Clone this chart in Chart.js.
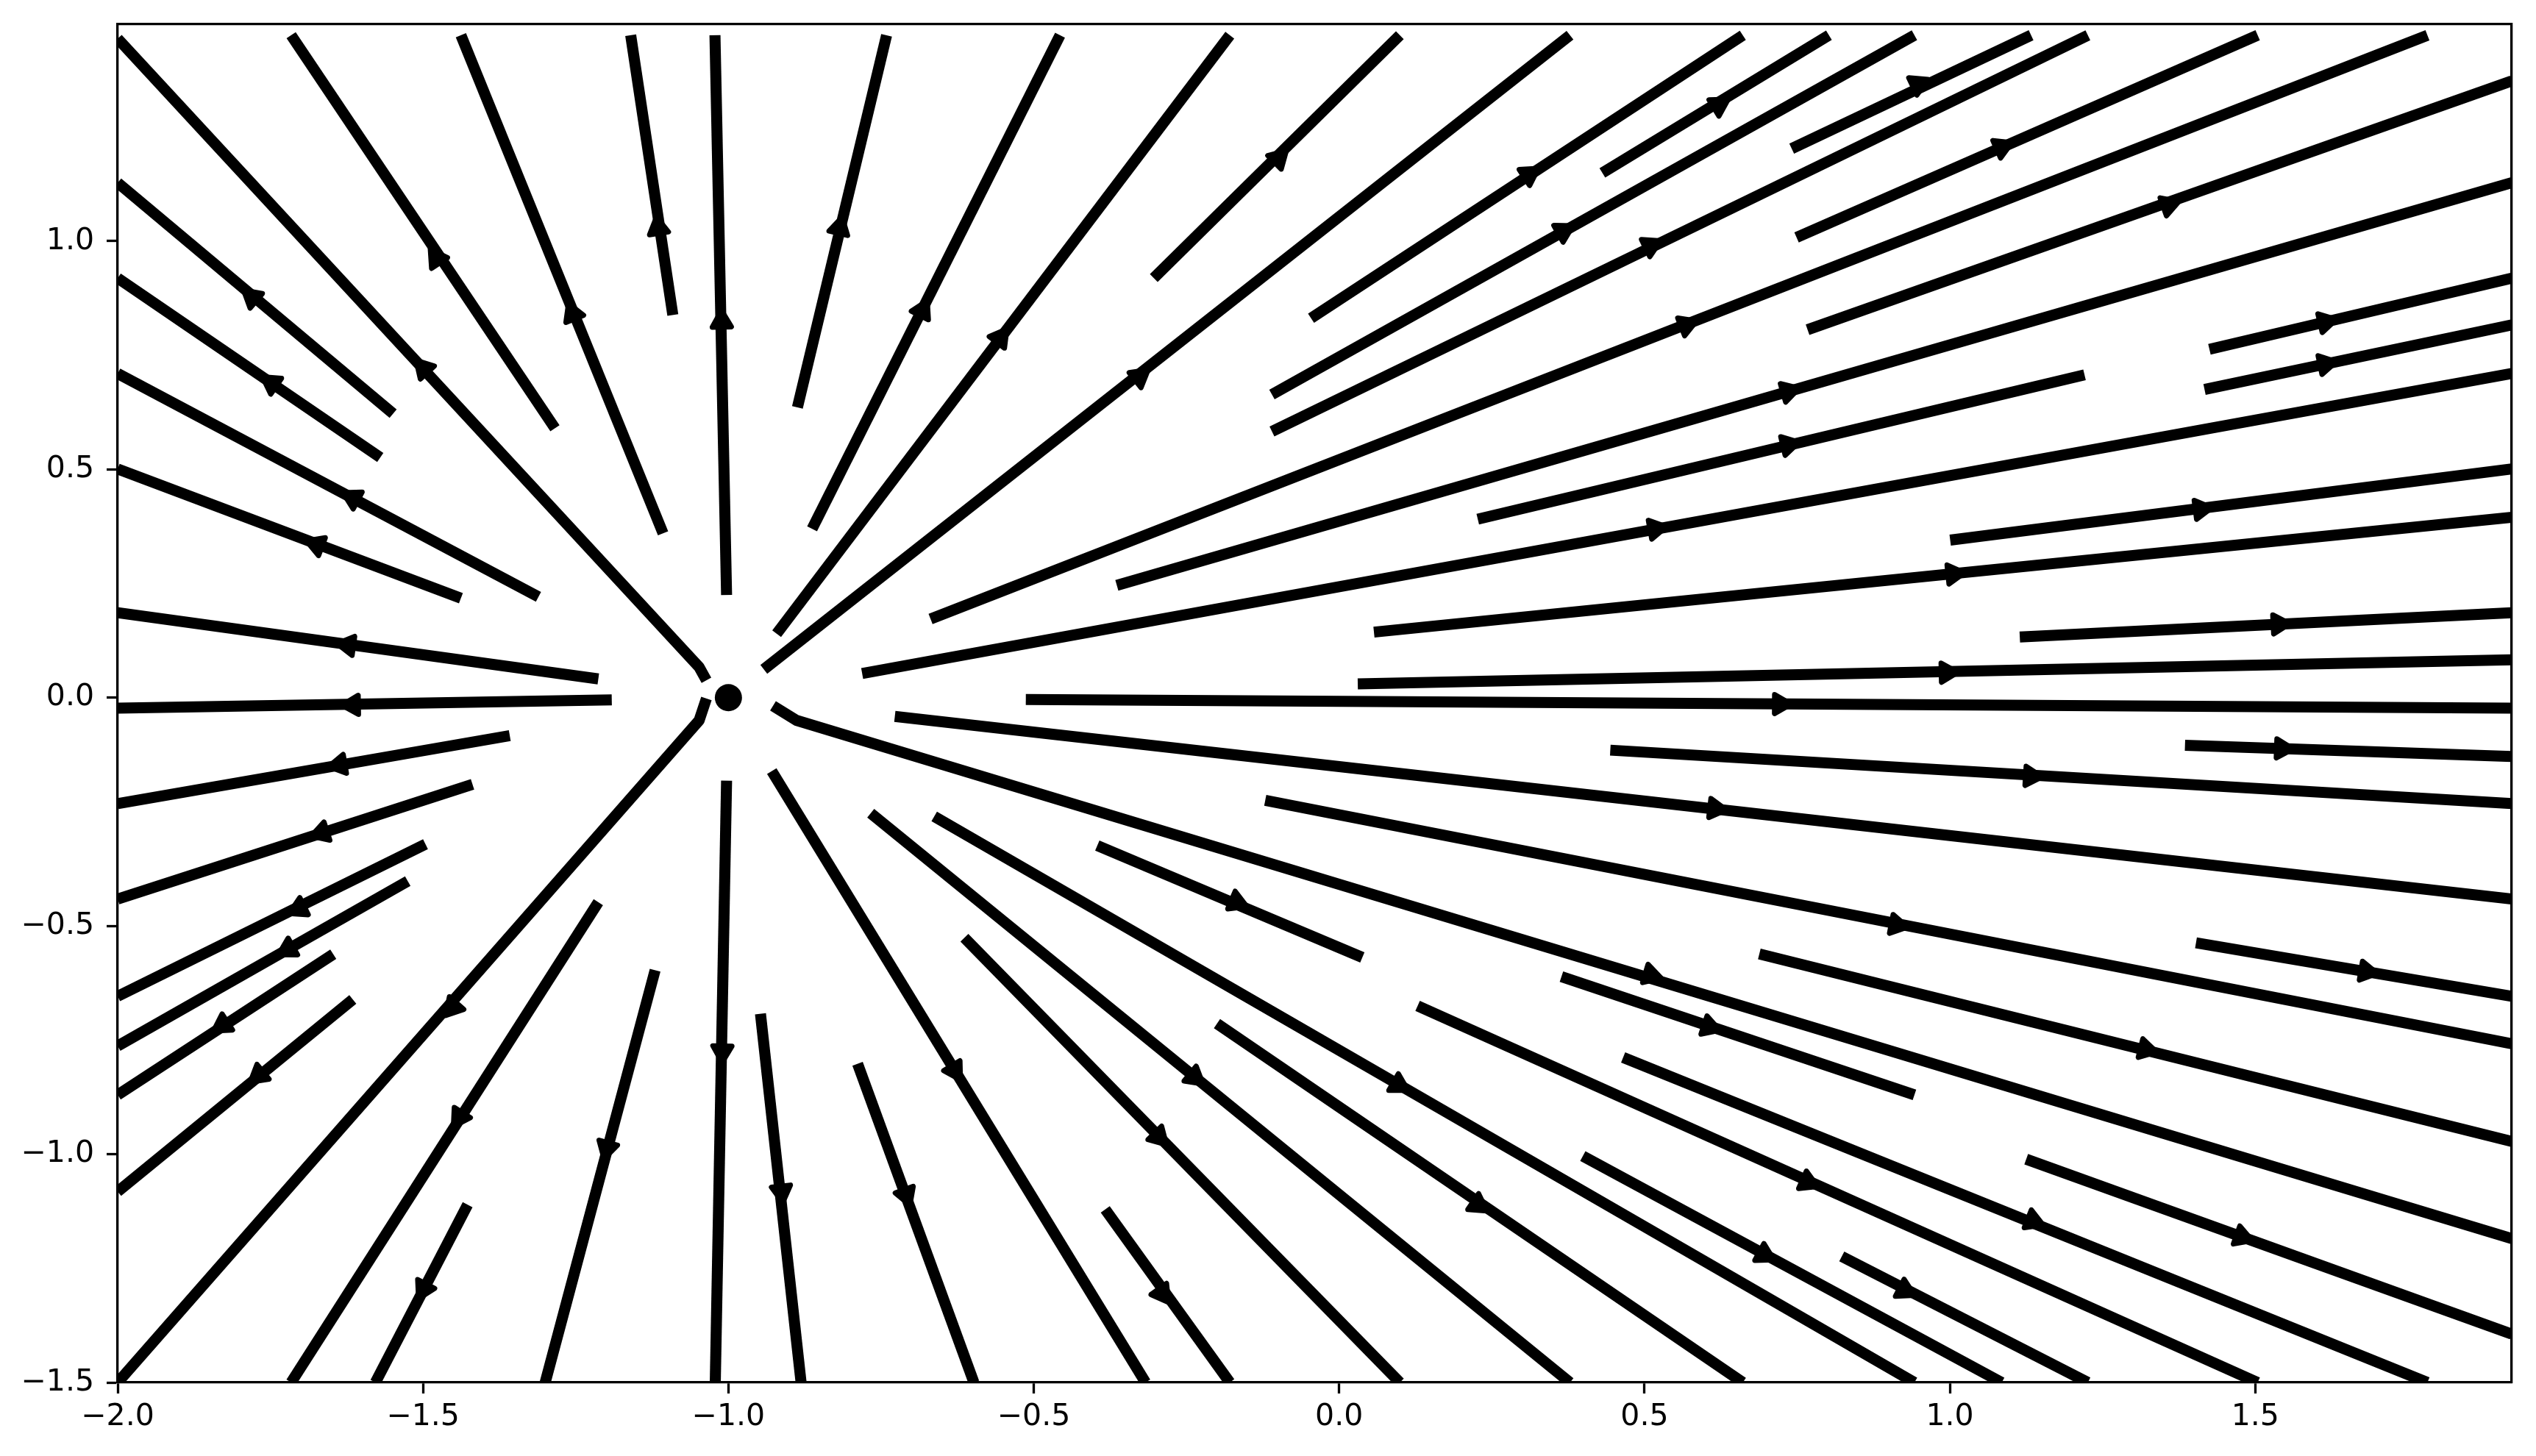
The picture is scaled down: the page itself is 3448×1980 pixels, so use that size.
<!DOCTYPE html>
<html><head><meta charset="utf-8">
<script src="https://cdn.jsdelivr.net/npm/chart.js@4"></script>
<style>html,body{margin:0;padding:0;background:#fff;overflow:hidden;}#wrap{width:3448px;height:1980px;}</style>
</head><body><div id="wrap"><canvas id="c" width="3448" height="1980"></canvas></div>
<script>
// Streamlines of a point source at (-1, 0): inner end -> outer end, plus arrow location
const startX = [-1.048,-1.549,-1.570,-1.311,-1.438,-1.213,-1.191,-1.358,-1.419,-1.496,-1.525,-1.647,-1.615,-1.048,
  -1.284,-1.107,-1.091,-1.003,-0.887,-0.863,-0.921,-0.942,-0.3035,-0.046,0.431,-0.110,0.741,-0.110,0.749,-0.669,
  0.767,-0.364,1.425,1.417,-0.781,0.227,1.0005,0.057,1.1145,0.0305,-0.513,1.385,0.444,-0.7275,-0.121,1.403,0.688,
  -0.888,-0.396,0.364,1.125,0.465,0.823,0.1285,0.399,-0.663,-0.200,-0.767,-0.6136,-0.383,-0.929,-0.7885,-0.9475,
  -1.003,-1.120,-1.427,-1.213];
const startY = [0.067,0.622,0.526,0.221,0.218,0.041,-0.005,-0.083,-0.190,-0.321,-0.402,-0.562,-0.661,-0.050,
  0.590,0.360,0.838,0.225,0.636,0.370,0.140,0.062,0.919,0.831,1.1495,0.664,1.2026,0.583,1.008,0.1725,
  0.806,0.246,0.763,0.675,0.053,0.391,0.345,0.1435,0.133,0.030,-0.004,-0.1045,-0.115,-0.041,-0.225,-0.537,-0.5615,
  -0.050,-0.324,-0.611,-1.011,-0.788,-1.224,-0.675,-1.004,-0.260,-0.714,-0.253,-0.526,-1.121,-0.161,-0.802,-0.6925,
  -0.182,-0.597,-1.1105,-0.448];
const endX = [-2.0,-2.0,-2.0,-2.0,-2.0,-2.0,-2.0,-2.0,-2.0,-2.0,-2.0,-2.0,-2.0,-2.0,
  -1.716,-1.438,-1.160,-1.022,-0.741,-0.457,-0.179,0.378,0.0994,0.661,0.802,0.942,1.133,1.226,1.504,1.782,
  1.92,1.92,1.92,1.92,1.92,1.2205,1.92,1.92,1.92,1.92,1.92,1.92,1.92,1.92,1.92,1.92,1.92,
  1.92,0.038,0.942,1.92,1.782,1.226,1.504,1.085,0.942,0.661,0.378,0.0994,-0.179,-0.317,-0.598,-0.881,
  -1.0215,-1.300,-1.578,-1.716];
const endY = [1.4435,1.128,0.919,0.710,0.501,0.186,-0.023,-0.232,-0.441,-0.654,-0.763,-0.870,-1.082,-1.5,
  1.451,1.451,1.451,1.451,1.451,1.451,1.451,1.451,1.451,1.451,1.451,1.451,1.451,1.451,1.451,1.451,
  1.351,1.128,0.919,0.8165,0.710,0.707,0.501,0.395,0.186,0.083,-0.023,-0.129,-0.232,-0.441,-0.758,-0.654,-0.972,
  -1.185,-0.569,-0.870,-1.394,-1.5,-1.5,-1.5,-1.5,-1.5,-1.5,-1.5,-1.5,-1.5,-1.5,-1.5,-1.5,
  -1.5,-1.5,-1.5,-1.5];
const arrowX = [-1.499,-1.780,-1.748,-1.615,-1.674,-1.623,-1.615,-1.637,-1.666,-1.703,-1.721,-1.828,-1.769,-1.451,
  -1.478,-1.255,-1.115,-1.011,-0.818,-0.6825,-0.555,-0.327,-0.0994,0.311,0.6215,0.367,0.9475,0.510,1.085,0.5685,
  1.358,0.7355,1.615,1.615,0.518,0.7355,1.411,1.006,1.5385,0.995,0.722,1.544,1.133,0.616,0.913,1.682,1.321,
  0.510,-0.168,0.606,1.478,1.136,0.926,0.767,0.696,0.097,0.227,-0.237,-0.2955,-0.290,-0.6295,-0.709,-0.913,
  -1.010,-1.199,-1.499,-1.4405];
const arrowY = [0.721,0.877,0.689,0.4375,0.335,0.115,-0.016,-0.147,-0.296,-0.462,-0.551,-0.717,-0.827,-0.678,
  0.962,0.841,1.029,0.824,1.029,0.848,0.788,0.703,1.181,1.146,1.298,1.022,1.344,0.990,1.206,0.8165,
  1.079,0.671,0.823,0.731,0.370,0.554,0.413,0.271,0.161,0.055,-0.014,-0.1115,-0.172,-0.243,-0.498,-0.600,-0.7705,
  -0.6075,-0.448,-0.721,-1.181,-1.146,-1.298,-1.061,-1.220,-0.848,-1.1105,-0.831,-0.962,-1.305,-0.8165,-1.089,-1.082,
  -0.775,-0.9865,-1.295,-0.919];
// short hooks where three streamlines bend into the source
const hookLine = [0, 13, 47];
const hookX = [-1.036, -1.036, -0.927];
const hookY = [0.038, -0.002, -0.018];
const sourceX = [-1.0];
const sourceY = [0.0];
const xTicks = [-2.0,-1.5,-1.0,-0.5,0.0,0.5,1.0,1.5];
const yTicks = [-1.5,-1.0,-0.5,0.0,0.5,1.0];

const fmt = v => { const s = (Math.abs(v) < 1e-9 ? 0 : v).toFixed(1); return s.replace('-', '\u2212'); };
const FONT = {family: 'DejaVu Sans', size: 41};

const datasets = [];
for (let i = 0; i < startX.length; i++) {
  const pts = [];
  const h = hookLine.indexOf(i);
  if (h >= 0) pts.push({x: hookX[h], y: hookY[h]});
  pts.push({x: startX[i], y: startY[i]}, {x: endX[i], y: endY[i]});
  datasets.push({
    data: pts,
    showLine: true, borderColor: '#000', borderWidth: 15, borderCapStyle: 'butt', borderJoinStyle: 'round',
    pointRadius: 0, pointHoverRadius: 0, fill: false
  });
}
datasets.push({
  data: arrowX.map((x, i) => ({x, y: arrowY[i]})),
  pointStyle: 'triangle', pointRadius: 15, pointHoverRadius: 15,
  backgroundColor: '#000', borderColor: '#000', pointBorderWidth: 7,
  pointRotation: (ctx) => {
    const xs = ctx.chart.scales.x, ys = ctx.chart.scales.y, i = ctx.dataIndex;
    if (i === undefined) return 0;
    const ux = xs.getPixelForValue(endX[i]) - xs.getPixelForValue(startX[i]);
    const uy = ys.getPixelForValue(endY[i]) - ys.getPixelForValue(startY[i]);
    return Math.atan2(ux, -uy) * 180 / Math.PI;
  }
});
datasets.push({
  data: sourceX.map((x, i) => ({x, y: sourceY[i]})),
  pointStyle: 'circle', pointRadius: 18.5, pointHoverRadius: 18.5,
  backgroundColor: '#000', borderWidth: 0
});

const fix = (pos, fitSize) => s => {
  if (pos === 'bottom' || pos === 'top') s.height = fitSize; else s.width = fitSize;
  s.paddingTop = 0; s.paddingBottom = 0; s.paddingLeft = 0; s.paddingRight = 0;
};
const tickAxis = (pos, min, max, ticks, fitSize) => ({
  type: 'linear', position: pos, min, max,
  afterFit: fix(pos, fitSize),
  afterBuildTicks: s => { s.ticks = ticks.map(v => ({value: v})); },
  ticks: {display: true, autoSkip: false, maxRotation: 0, minRotation: 0, color: '#000', font: FONT,
    padding: pos === 'left' ? 17 : 8, callback: v => fmt(v)},
  grid: {display: true, drawOnChartArea: false, drawTicks: true, tickLength: 15, tickWidth: 3.3, tickColor: '#000'},
  border: {display: true, color: '#000', width: 3.3}
});
const plainAxis = (pos, min, max, fitSize) => ({
  type: 'linear', position: pos, min, max,
  afterFit: fix(pos, fitSize),
  ticks: {display: false}, grid: {display: false, drawTicks: false},
  border: {display: true, color: '#000', width: 3.3}
});

new Chart(document.getElementById('c'), {
  type: 'scatter',
  data: {datasets},
  options: {
    responsive: false, animation: false, devicePixelRatio: 1, events: [],
    layout: {padding: 0},
    plugins: {legend: {display: false}, tooltip: {enabled: false}},
    scales: {
      x: tickAxis('bottom', -2.0, 1.92, xTicks, 100),
      y: tickAxis('left', -1.5, 1.475, yTicks, 160),
      x2: plainAxis('top', -2.0, 1.92, 33),
      y2: plainAxis('right', -1.5, 1.475, 33)
    }
  },
  plugins: [{id: 'roundJoin', beforeDatasetsDraw(chart) { chart.ctx.lineJoin = 'round'; }}]
});
</script></body></html>
